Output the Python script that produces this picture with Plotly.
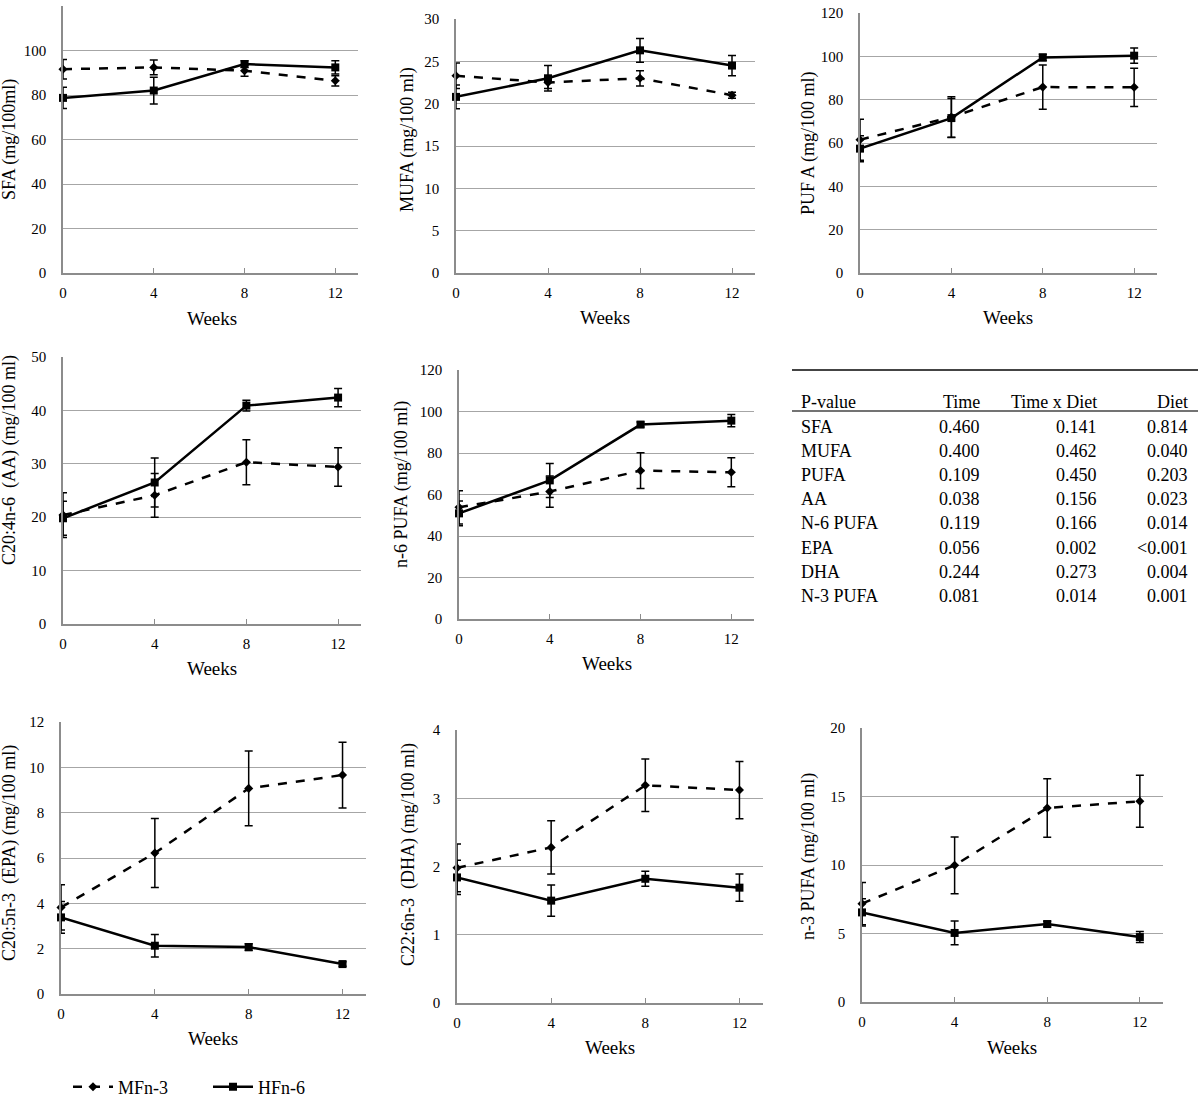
import plotly.graph_objs as go

# Data (mean +/- error, mg/100 ml)
weeks = [0, 4, 8, 12]

sfa_mf = [91.6, 92.4, 90.9, 86.4]
sfa_mf_err = [4.4, 3.3, 2.5, 2.3]
sfa_hf = [78.7, 82.0, 93.9, 92.4]
sfa_hf_err = [4.8, 6.0, 1.5, 3.0]

mufa_mf = [23.3, 22.5, 23.0, 21.0]
mufa_mf_err = [1.5, 0.7, 0.9, 0.35]
mufa_hf = [20.8, 23.0, 26.3, 24.5]
mufa_hf_err = [1.4, 1.5, 1.4, 1.2]

pufa_mf = [61.5, 72.0, 85.8, 85.7]
pufa_mf_err = [9.5, 9.3, 10.2, 8.8]
pufa_hf = [57.4, 71.5, 99.5, 100.3]
pufa_hf_err = [6.0, 9.0, 1.5, 3.5]

aa_mf = [20.4, 24.1, 30.3, 29.4]
aa_mf_err = [4.2, 4.1, 4.2, 3.6]
aa_hf = [19.8, 26.5, 40.9, 42.4]
aa_hf_err = [3.2, 4.6, 1.0, 1.7]

n6_mf = [53.8, 61.4, 71.5, 70.7]
n6_mf_err = [8.0, 7.5, 8.6, 7.0]
n6_hf = [50.9, 66.8, 93.7, 95.6]
n6_hf_err = [6.0, 8.2, 1.2, 3.0]

epa_mf = [3.82, 6.22, 9.07, 9.66]
epa_mf_err = [1.0, 1.52, 1.65, 1.45]
epa_hf = [3.38, 2.13, 2.07, 1.32]
epa_hf_err = [0.7, 0.5, 0.15, 0.1]

dha_mf = [1.98, 2.28, 3.19, 3.12]
dha_mf_err = [0.35, 0.39, 0.385, 0.42]
dha_hf = [1.84, 1.50, 1.82, 1.69]
dha_hf_err = [0.25, 0.23, 0.11, 0.2]

n3_mf = [7.18, 9.98, 14.16, 14.65]
n3_mf_err = [1.55, 2.07, 2.13, 1.9]
n3_hf = [6.54, 5.04, 5.69, 4.74]
n3_hf_err = [1.0, 0.87, 0.2, 0.4]

y_titles = ["SFA (mg/100ml)", "MUFA (mg/100 ml)", "PUF A (mg/100 ml)",
            "C20:4n-6  (AA) (mg/100 ml)", "n-6 PUFA (mg/100 ml)",
            "C20:5n-3  (EPA) (mg/100 ml)", "C22:6n-3  (DHA) (mg/100 ml)", "n-3 PUFA (mg/100 ml)"]
y_max = [120, 30, 120, 50, 120, 12, 4, 20]
y_step = [20, 5, 20, 10, 20, 2, 1, 5]

# P-value table
table_header = ["P-value", "Time", "Time x Diet", "Diet"]
table_rows = ["SFA", "MUFA", "PUFA", "AA", "N-6 PUFA", "EPA", "DHA", "N-3 PUFA"]
p_time = ["0.460", "0.400", "0.109", "0.038", "0.119", "0.056", "0.244", "0.081"]
p_time_diet = ["0.141", "0.462", "0.450", "0.156", "0.166", "0.002", "0.273", "0.014"]
p_diet = ["0.814", "0.040", "0.203", "0.023", "0.014", "<0.001", "0.004", "0.001"]

panels = [
    (sfa_mf, sfa_mf_err, sfa_hf, sfa_hf_err),
    (mufa_mf, mufa_mf_err, mufa_hf, mufa_hf_err),
    (pufa_mf, pufa_mf_err, pufa_hf, pufa_hf_err),
    (aa_mf, aa_mf_err, aa_hf, aa_hf_err),
    (n6_mf, n6_mf_err, n6_hf, n6_hf_err),
    (epa_mf, epa_mf_err, epa_hf, epa_hf_err),
    (dha_mf, dha_mf_err, dha_hf, dha_hf_err),
    (n3_mf, n3_mf_err, n3_hf, n3_hf_err),
]

W, H = 1200, 1099
FONT = "Liberation Serif"

# plot boxes in pixels: x0, x1, y_top, y_bottom
boxes = [
    (63, 358, 6, 273), (456, 755, 19, 273), (860, 1157, 13, 273),
    (63, 361, 357, 624), (459, 754, 370, 619),
    (61, 366, 722, 994), (457, 763, 730, 1003), (862, 1163, 728, 1002),
]
# y-title centres and "Weeks" centres in pixels
ytitle_pos = [(10, 140), (408, 140), (809, 143), (9, 460), (401, 485), (9, 853), (408, 855), (808, 857)]
weeks_pos = [(212, 318), (605, 317), (1008, 317), (212, 668), (607, 663), (213, 1038), (610, 1047), (1012, 1047)]


def px(x):
    return x / W


def py(y):
    return 1 - y / H


fig = go.Figure()
layout = {}
annotations = []

for i, (mf, mf_err, hf, hf_err) in enumerate(panels):
    n = i + 1
    sfx = "" if n == 1 else str(n)
    x0, x1, yt, yb = boxes[i]

    fig.add_trace(go.Scatter(
        x=weeks, y=mf, name="MFn-3", xaxis="x" + sfx, yaxis="y" + sfx,
        mode="lines+markers", line=dict(color="black", width=2.5, dash="dash"),
        marker=dict(symbol="diamond", size=7, color="black"),
        error_y=dict(type="data", array=mf_err, color="black", thickness=1.5, width=4),
        showlegend=(n == 1), cliponaxis=False))
    fig.add_trace(go.Scatter(
        x=weeks, y=hf, name="HFn-6", xaxis="x" + sfx, yaxis="y" + sfx,
        mode="lines+markers", line=dict(color="black", width=2.5),
        marker=dict(symbol="square", size=8, color="black"),
        error_y=dict(type="data", array=hf_err, color="black", thickness=1.5, width=4),
        showlegend=(n == 1), cliponaxis=False))

    layout["xaxis" + sfx] = dict(
        domain=[px(x0), px(x1)], anchor="y" + sfx, range=[0, 13],
        tickvals=weeks, showgrid=False, zeroline=False,
        showline=True, linecolor="#8c8c8c", linewidth=1.5,
        ticks="inside", ticklen=5, tickcolor="#8c8c8c",
        ticklabelstandoff=5, tickfont=dict(family=FONT, size=15, color="black"))
    layout["yaxis" + sfx] = dict(
        domain=[py(yb), py(yt)], anchor="x" + sfx, range=[0, y_max[i]],
        dtick=y_step[i], showgrid=True, gridcolor="#a6a6a6", gridwidth=1,
        zeroline=False, showline=True, linecolor="#8c8c8c", linewidth=1.5,
        ticks="", ticklabelstandoff=12, tickfont=dict(family=FONT, size=15, color="black"))

    tx, ty = ytitle_pos[i]
    annotations.append(dict(x=px(tx), y=py(ty), xref="paper", yref="paper", text=y_titles[i],
                            xanchor="center", yanchor="middle", textangle=-90, showarrow=False,
                            font=dict(family=FONT, size=18, color="black")))
    wx, wy = weeks_pos[i]
    annotations.append(dict(x=px(wx), y=py(wy), xref="paper", yref="paper", text="Weeks",
                            xanchor="center", yanchor="middle", showarrow=False,
                            font=dict(family=FONT, size=19, color="black")))

# Table as text annotations
col_x = [799, 982, 1099, 1190]
col_anchor = ["left", "right", "right", "right"]
table_font = dict(family=FONT, size=18, color="black")
for j, head in enumerate(table_header):
    annotations.append(dict(x=px(col_x[j]), y=py(402), xref="paper", yref="paper", text=head,
                            xanchor=col_anchor[j], yanchor="middle", showarrow=False, font=table_font))
for r, name in enumerate(table_rows):
    row_y = 427 + r * 24.1
    for j, val in enumerate([name, p_time[r], p_time_diet[r], p_diet[r]]):
        annotations.append(dict(x=px(col_x[j]), y=py(row_y), xref="paper", yref="paper", text=val,
                                xanchor=col_anchor[j], yanchor="middle", showarrow=False, font=table_font))

shapes = [
    dict(type="line", xref="paper", yref="paper", x0=px(792), x1=px(1198), y0=py(370), y1=py(370),
         line=dict(color="#444444", width=2)),
    dict(type="line", xref="paper", yref="paper", x0=px(792), x1=px(1198), y0=py(411), y1=py(411),
         line=dict(color="#444444", width=1.5)),
]

fig.update_layout(
    width=W, height=H,
    margin=dict(l=0, r=0, t=0, b=0, autoexpand=False),
    plot_bgcolor="white", paper_bgcolor="white",
    font=dict(family=FONT, color="black"),
    annotations=annotations, shapes=shapes,
    legend=dict(orientation="h", x=px(68), y=py(1087), xanchor="left", yanchor="middle",
                font=dict(family=FONT, size=18, color="black"), itemwidth=40,
                entrywidth=85, bgcolor="rgba(0,0,0,0)"),
    **layout)

# drop the browser's default body margin so the figure fills the window exactly
fig.write_html("out.html", config={"displayModeBar": False},
               post_script="document.body.style.margin='0px';")
